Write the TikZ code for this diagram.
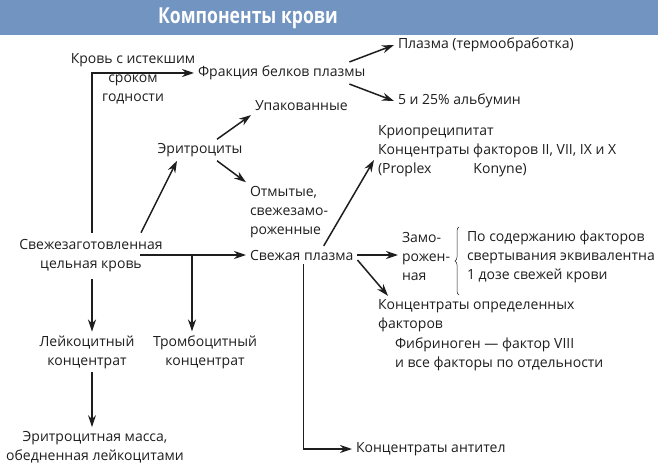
\documentclass[tikz,border=0pt]{standalone}
\usepackage{fontspec}
\setmainfont{Open Sans}
\usetikzlibrary{arrows.meta,decorations.pathreplacing}
\definecolor{titlebar}{RGB}{114,148,192}
\definecolor{ink}{RGB}{30,30,30}
\begin{document}
\begin{tikzpicture}[x=1pt,y=-1pt,>={Stealth[length=12pt,width=8pt]},
  every node/.style={font=\fontsize{14}{19}\selectfont,text=ink,inner sep=2pt,outer sep=2pt},
  lbl/.style={anchor=west,align=left},
  arr/.style={->,line width=1.5pt,draw=ink}]
\useasboundingbox(0,0) rectangle (658,465);
\fill[titlebar](0,0) rectangle (658,35);
\node[text=white,font=\fontsize{22}{22}\selectfont\bfseries](title) at (248,18){\scalebox{0.8}[1]{Компоненты крови}};

% upper branch
\node[align=center](old) at (133,79){Кровь с истекшим\\сроком\\годности};
\node[lbl](frac) at (194,73){Фракция белков плазмы};
\node[lbl](heat) at (394,45){Плазма (термообработка)};
\node[lbl](alb) at (394,101){5 и 25\% альбумин};

% red cells
\node(ery) at (200,150){Эритроциты};
\node[lbl](pack) at (251,106){Упакованные};
\node[lbl](washed) at (246,212){Отмытые,\\свежезамо-\\роженные};

% whole blood and its parts
\node[align=center,outer sep=5pt](whole) at (91,256){Свежезаготовленная\\цельная кровь};
\node[lbl](fresh) at (246,255){Свежая плазма};
\node[align=center](leuk) at (87,352){Лейкоцитный\\концентрат};
\node[align=center](plt) at (205,352){Тромбоцитный\\концентрат};
\node[align=center](red) at (95,447){Эритроцитная масса,\\обедненная лейкоцитами};
\node[lbl](anti) at (352,449){Концентраты антител};

% plasma products
\node[lbl](cryo) at (374,151){Криопреципитат\\Концентраты факторов II, VII, IX и X\\(Proplex\hspace{42pt}Konyne)};
\node[lbl](frozen) at (398,256){Замо-\\рожен-\\ная};
\node[lbl](equiv) at (463,257){По содержанию факторов\\свертывания эквивалентна\\1 дозе свежей крови};
\node[lbl](conc) at (374,316){Концентраты определенных\\факторов};
\node[lbl](fib) at (391,354){Фибриноген — фактор VIII\\и все факторы по отдельности};

\coordinate(wj) at ([xshift=49pt]whole.center);
\coordinate(pj) at (192,255);

\draw[arr]([xshift=1pt]whole.north) |- (frac.west);
\draw[arr]([xshift=-20pt]frac.north east) -- (heat.west);
\draw[arr]([xshift=-20pt]frac.south east) -- (alb.west);
\draw[arr]([xshift=50pt]whole.north) -- ([xshift=-23pt]ery.south);
\draw[arr]([xshift=17pt]ery.north) -- (pack.south west);
\draw[arr]([xshift=17pt]ery.south) -- (washed.north west);
\draw[arr](wj |- fresh.west) -- (fresh.west);
\draw[arr](pj) -- (pj |- plt.north);
\draw[arr]([xshift=1pt]whole.south) -- ([xshift=1pt]whole.south |- leuk.north);
\draw[arr]([xshift=5pt]leuk.south) -- ([xshift=5pt]leuk.south |- red.north);
\draw[arr]([xshift=2pt]fresh.south) |- (anti.west);
\draw[arr]([xshift=22pt]fresh.north) -- ([yshift=-9pt]cryo.west);
\draw[arr](fresh.east) -- (fresh.east -| frozen.west);
\draw[arr]([yshift=-5pt]fresh.east) -- ([xshift=14pt]conc.north west);
\draw[ink,line width=0.5pt,decorate,decoration={brace,amplitude=4pt}]
  ([xshift=-4pt,yshift=-8pt]equiv.south west) -- ([xshift=-4pt]equiv.north west);
\end{tikzpicture}
\end{document}
